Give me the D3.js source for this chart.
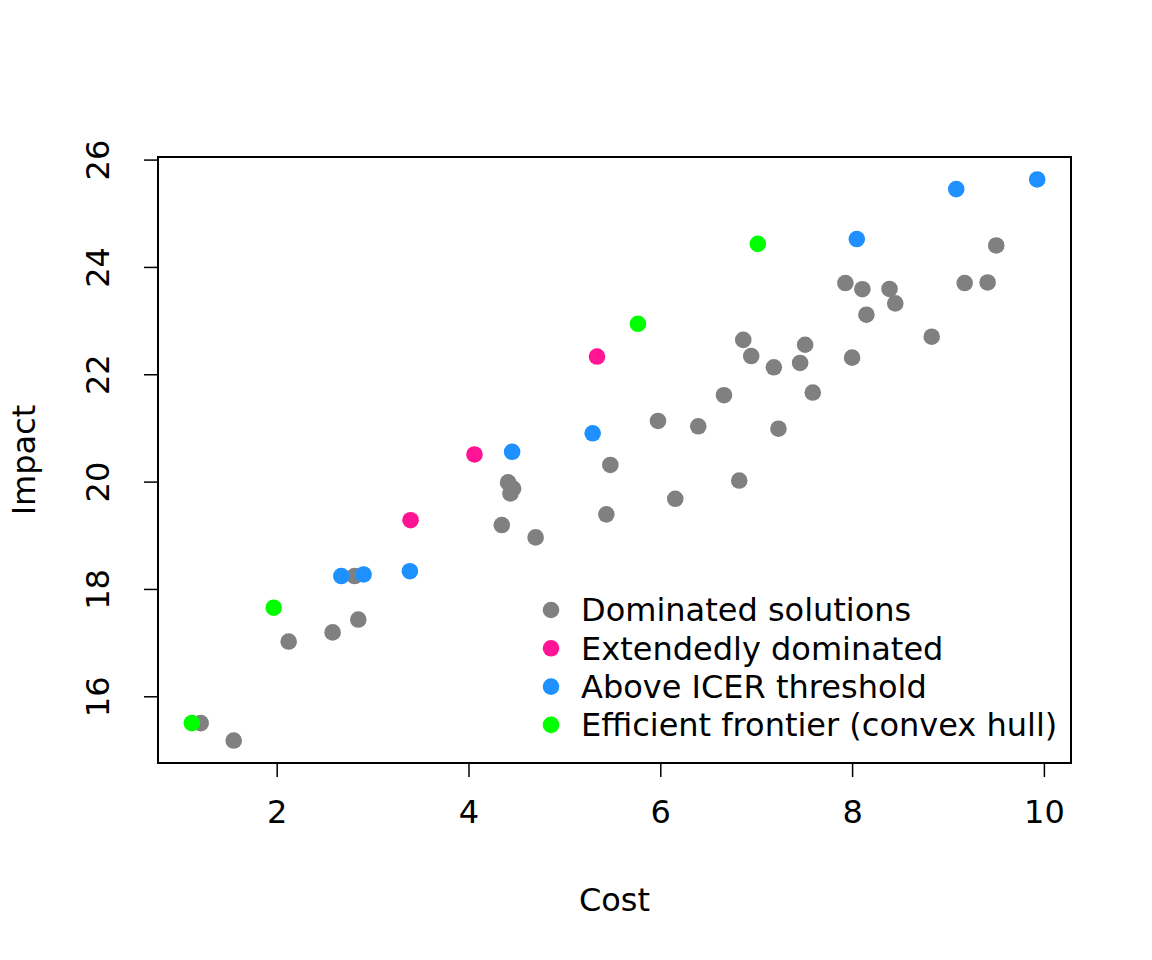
<!DOCTYPE html>
<html><head><meta charset="utf-8">
<script src="https://cdn.jsdelivr.net/npm/d3@7"></script>
<style>body{margin:0;background:#fff}svg{display:block}text{font-family:"DejaVu Sans",sans-serif;fill:#000}</style>
</head><body><svg id="c" width="1152" height="960"></svg>
<script>
const dominatedCost   = [1.208,1.552,2.125,2.583,2.851,2.8125,4.413,4.465,4.4375,4.347,4.70,5.479,5.4375,5.976,6.396,6.156,6.823,7.93,8.107,8.39,8.45,8.149,6.865,6.948,7.184,7.51,7.458,8.0,6.664,7.59,7.232,9.503,9.174,9.413,8.83];
const dominatedImpact = [15.50,15.175,17.02,17.19,17.43,18.24,19.985,19.87,19.78,19.19,18.96,20.31,19.39,21.13,21.03,19.68,20.02,23.70,23.585,23.59,23.32,23.11,22.64,22.34,22.13,22.55,22.21,22.31,21.61,21.66,20.985,24.40,23.70,23.71,22.70];
const extendedCost    = [3.396,4.0625,5.34];
const extendedImpact  = [19.28,20.506,22.33];
const aboveCost       = [2.674,2.906,3.389,4.455,5.295,8.049,9.086,9.93];
const aboveImpact     = [18.24,18.27,18.33,20.556,20.90,24.52,25.45,25.63];
const efficientCost   = [1.115,1.969,5.767,7.017];
const efficientImpact = [15.50,17.65,22.94,24.43];
const xTicks = [2,4,6,8,10];
const yTicks = [16,18,20,22,24,26];
const legendLabels = ["Dominated solutions","Extendedly dominated","Above ICER threshold","Efficient frontier (convex hull)"];
const colors = ["#808080","#FF1493","#1E90FF","#00FF00"];

const groups = [
  {c:dominatedCost,i:dominatedImpact,col:colors[0]},
  {c:extendedCost,i:extendedImpact,col:colors[1]},
  {c:aboveCost,i:aboveImpact,col:colors[2]},
  {c:efficientCost,i:efficientImpact,col:colors[3]}
];
const allC = groups.flatMap(g=>g.c), allI = groups.flatMap(g=>g.i);
const pad = e => {const r=e[1]-e[0]; return [e[0]-0.04*r, e[1]+0.04*r];};
const L=158,R=1071,T=157,B=763;
const FS = "32px";
const x = d3.scaleLinear().domain(pad(d3.extent(allC))).range([L,R]);
const y = d3.scaleLinear().domain(pad(d3.extent(allI))).range([B,T]);
const svg = d3.select("#c");

const gx = svg.append("g").attr("transform",`translate(0,${B})`)
  .call(d3.axisBottom(x).tickValues(xTicks).tickSize(14).tickPadding(23).tickFormat(d3.format("d")));
const gy = svg.append("g").attr("transform",`translate(${L},0)`)
  .call(d3.axisLeft(y).tickValues(yTicks).tickSize(14).tickFormat(d3.format("d")));
[gx,gy].forEach(g=>{g.select(".domain").remove();g.selectAll("line").attr("stroke","#000").attr("stroke-width",1.5);
  g.selectAll("text").style("font-family","DejaVu Sans").style("font-size",FS);});
gx.selectAll("text").attr("dy","0.71em");
gy.selectAll(".tick text").attr("x",null).attr("text-anchor","middle")
  .attr("transform","translate(-60,0) rotate(-90)").attr("y",0).attr("dy","0.35em");

svg.append("rect").attr("x",L).attr("y",T).attr("width",R-L).attr("height",B-T)
  .attr("fill","none").attr("stroke","#000").attr("stroke-width",2);

groups.forEach(g=>{
  svg.append("g").selectAll("circle").data(g.c.map((c,k)=>[c,g.i[k]])).join("circle")
    .attr("cx",d=>x(d[0])).attr("cy",d=>y(d[1])).attr("r",8.3).attr("fill",g.col);
});

svg.append("text").attr("x",(L+R)/2).attr("y",911).attr("text-anchor","middle").style("font-size",FS).text("Cost");
svg.append("text").attr("transform",`translate(35,${(T+B)/2}) rotate(-90)`).attr("text-anchor","middle").style("font-size",FS).text("Impact");

const lg = svg.append("g");
legendLabels.forEach((t,k)=>{
  const yy = 610 + k*38.3;
  lg.append("circle").attr("cx",551).attr("cy",yy).attr("r",8.3).attr("fill",colors[k]);
  lg.append("text").attr("x",581).attr("y",yy).attr("dy","0.35em").style("font-size",FS).text(t);
});
</script></body></html>
